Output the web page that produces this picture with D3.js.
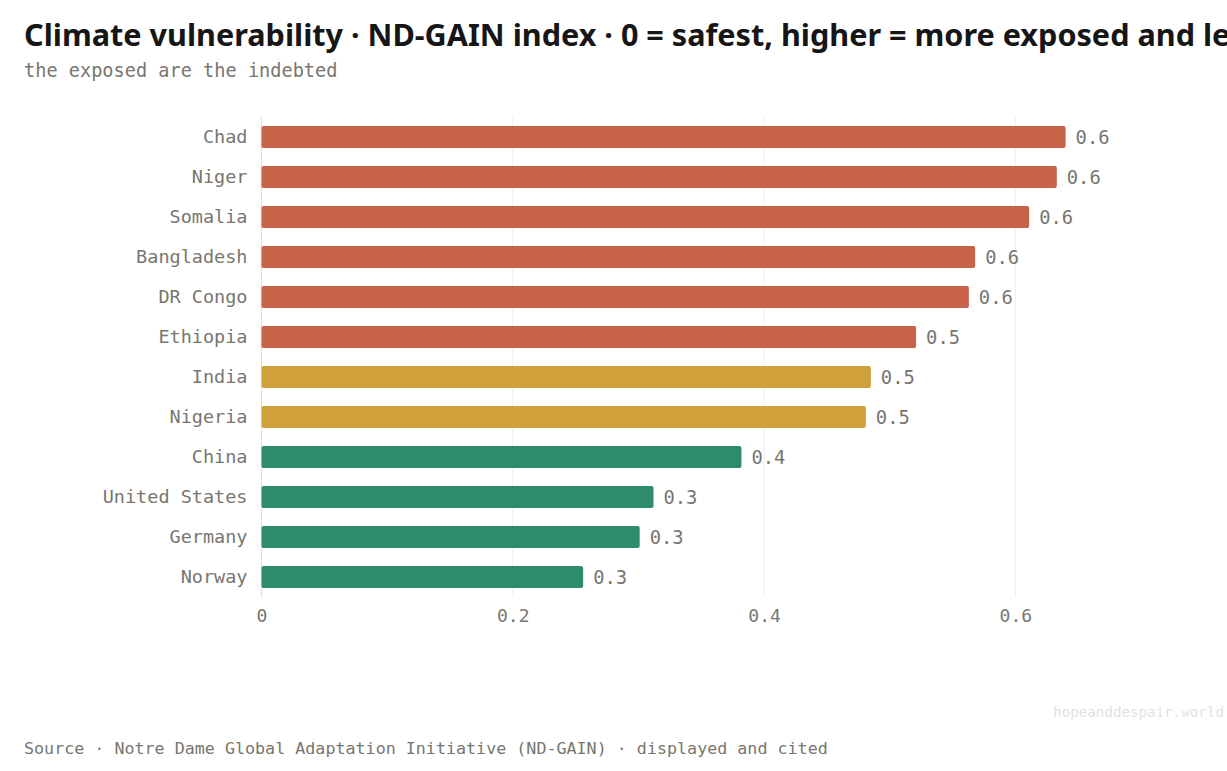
<!DOCTYPE html>
<html>
<head>
<meta charset="utf-8">
<script src="https://cdn.jsdelivr.net/npm/d3@7"></script>
<style>
    body { margin: 0; background: #fff; overflow: hidden; }
    svg { display: block; }
</style>
</head>
<body>
<div id="chart"></div>
<script>
// values, ND-GAIN vulnerability score
const countries = ["Chad", "Niger", "Somalia", "Bangladesh", "DR Congo", "Ethiopia",
    "India", "Nigeria", "China", "United States", "Germany", "Norway"];
const scores = [0.640, 0.633, 0.611, 0.568, 0.563, 0.521, 0.485, 0.481, 0.382, 0.312, 0.301, 0.256];
const tiers = ["high", "high", "high", "high", "high", "high", "mid", "mid", "low", "low", "low", "low"];
const xTicks = [0, 0.2, 0.4, 0.6];

const tierColor = {high: "#c8634a", mid: "#d0a03b", low: "#2e8c6a"};
const mono = "'DejaVu Sans Mono', monospace";
const textGray = "#78766f";

const width = 1227;
const height = 771;
const margin = {top: 117, right: 86, bottom: 174, left: 261.5};

const svg = d3.select("#chart").append("svg")
    .attr("width", width)
    .attr("height", height);

const data = countries.map((c, i) => ({country: c, value: scores[i], tier: tiers[i]}));

const x = d3.scaleLinear()
    .domain([0, 0.7])
    .range([margin.left, width - margin.right]);

const y = d3.scaleBand()
    .domain(countries)
    .range([margin.top, height - margin.bottom])
    .paddingInner(0.45)
    .paddingOuter(0.225);

// title + subtitle (title runs off the right edge, as in the original)
svg.append("text")
    .attr("x", 24)
    .attr("y", 46)
    .style("font-family", "'Noto Sans', sans-serif")
    .style("font-weight", "700")
    .style("font-size", "30.6px")
    .style("fill", "#161616")
    .text("Climate vulnerability · ND-GAIN index · 0 = safest, higher = more exposed and less ready");

svg.append("text")
    .attr("x", 24)
    .attr("y", 77)
    .style("font-family", mono)
    .style("font-size", "18.6px")
    .style("fill", textGray)
    .text("the exposed are the indebted");

// grid
svg.append("g")
    .selectAll("line")
    .data(xTicks.filter(d => d > 0))
    .join("line")
    .attr("x1", d => x(d))
    .attr("x2", d => x(d))
    .attr("y1", margin.top)
    .attr("y2", height - margin.bottom)
    .style("stroke", "#efefef")
    .style("stroke-width", 1);

svg.append("line")
    .attr("x1", x(0))
    .attr("x2", x(0))
    .attr("y1", margin.top)
    .attr("y2", height - margin.bottom)
    .style("stroke", "#dcdcdc")
    .style("stroke-width", 1);

// bars
svg.append("g")
    .selectAll("rect")
    .data(data)
    .join("rect")
    .attr("x", x(0))
    .attr("y", d => y(d.country))
    .attr("width", d => x(d.value) - x(0))
    .attr("height", y.bandwidth())
    .attr("rx", 2)
    .style("fill", d => tierColor[d.tier]);

// value labels
svg.append("g")
    .selectAll("text")
    .data(data)
    .join("text")
    .attr("x", d => x(d.value) + 10)
    .attr("y", d => y(d.country) + y.bandwidth() / 2)
    .attr("dy", "0.35em")
    .style("font-family", mono)
    .style("font-size", "18.8px")
    .style("fill", textGray)
    .text(d => d.value.toFixed(1));

// country labels
const yAxis = svg.append("g")
    .attr("transform", `translate(${margin.left},0)`)
    .call(d3.axisLeft(y).tickSize(0).tickPadding(14));
yAxis.select(".domain").remove();
yAxis.selectAll("text")
    .style("font-family", mono)
    .style("font-size", "18.5px")
    .style("fill", textGray);

// x axis
const xAxis = svg.append("g")
    .attr("transform", `translate(0,${height - margin.bottom})`)
    .call(d3.axisBottom(x).tickValues(xTicks).tickFormat(d => d === 0 ? "0" : d3.format(".1f")(d)).tickSize(0).tickPadding(12));
xAxis.select(".domain").remove();
xAxis.selectAll("text")
    .style("font-family", mono)
    .style("font-size", "18px")
    .style("fill", textGray);

// watermark + source
svg.append("text")
    .attr("x", 1224)
    .attr("y", 717)
    .attr("text-anchor", "end")
    .style("font-family", mono)
    .style("font-size", "14.2px")
    .style("fill", "#e2e2e2")
    .text("hopeanddespair.world");

svg.append("text")
    .attr("x", 24)
    .attr("y", 754)
    .style("font-family", mono)
    .style("font-size", "16.7px")
    .style("fill", textGray)
    .text("Source · Notre Dame Global Adaptation Initiative (ND-GAIN) · displayed and cited");
</script>
</body>
</html>
